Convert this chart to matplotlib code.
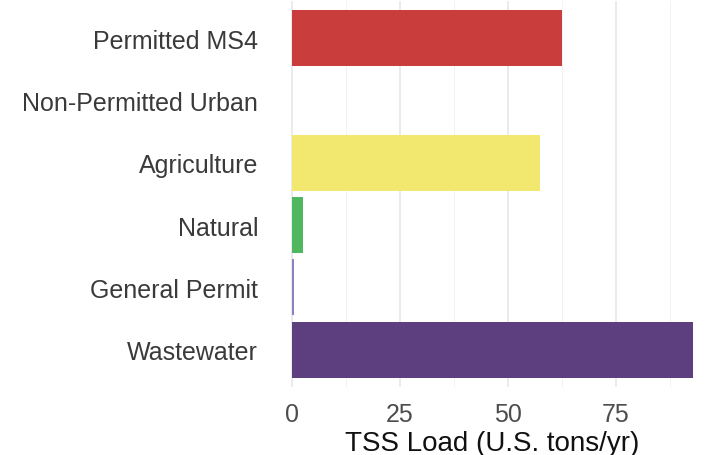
import matplotlib
matplotlib.use("Agg")
import matplotlib.pyplot as plt
import matplotlib.ticker as mticker

# data (top to bottom)
sources = ["Permitted MS4", "Non-Permitted Urban", "Agriculture",
           "Natural", "General Permit", "Wastewater"]
tss_load = [62.5, 0.0, 57.4, 2.6, 0.4, 92.8]
colors = ["#c93d3d", "#7fbfe0", "#f2e870", "#4fb85e", "#8f80c4", "#5d3f80"]

plt.rcParams["font.family"] = ["Liberation Sans", "DejaVu Sans"]

fig = plt.figure(figsize=(7.12, 4.56), dpi=100)
fig.patch.set_facecolor("white")
ax = fig.add_axes([272 / 712, 68 / 456, 440 / 712, 386 / 456])

ypos = list(range(len(sources)))
ax.barh(ypos, tss_load, height=0.9, color=colors, zorder=3)

ax.set_ylim(len(sources) - 0.4, -0.6)
ax.set_xlim(-4.65, 97.2)
ax.set_yticks(ypos)
ax.set_yticklabels(sources)

ax.xaxis.set_major_locator(mticker.FixedLocator([0, 25, 50, 75]))
ax.xaxis.set_minor_locator(mticker.FixedLocator([12.5, 37.5, 62.5, 87.5]))
ax.grid(True, axis="x", which="major", color="#e6e6e6", linewidth=1.1, zorder=0)
ax.grid(True, axis="x", which="minor", color="#f0f0f0", linewidth=0.6, zorder=0)

ax.tick_params(axis="both", which="both", length=0, labelsize=18,
               colors="#4d4d4d")
ax.tick_params(axis="y", pad=10, labelcolor="#3a3a3a")
ax.tick_params(axis="x", pad=11)

for spine in ax.spines.values():
    spine.set_visible(False)

ax.set_xlabel("TSS Load (U.S. tons/yr)", fontsize=20, color="#111111", labelpad=3)

fig.savefig("out.png", dpi=100, facecolor="white")
